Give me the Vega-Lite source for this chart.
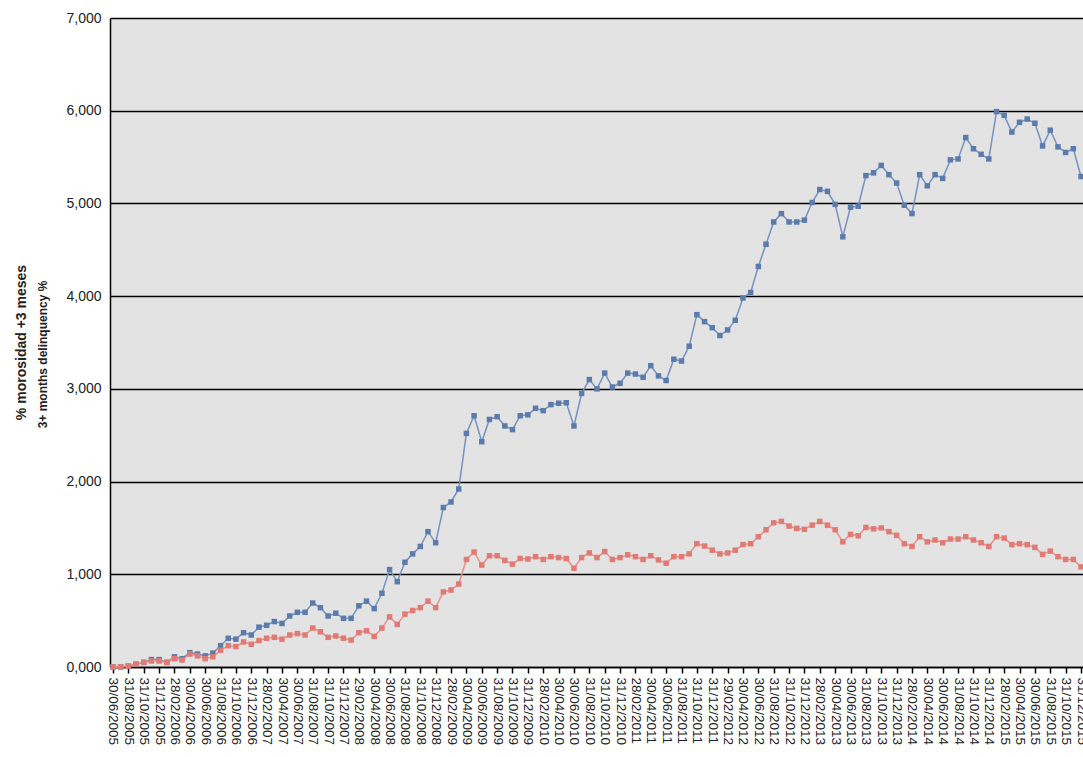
{
  "$schema": "https://vega.github.io/schema/vega-lite/v6.json",
  "autosize": {"type": "none"},
  "padding": {"left": 110, "top": 18, "right": 0, "bottom": 90},
  "width": 973,
  "height": 649,
  "background": "#ffffff",
  "title": {"text": "% morosidad +3 meses", "orient": "left", "anchor": "middle", "fontSize": 14, "fontWeight": "bold", "color": "#222222", "offset": 7},
  "data": {"values": [
    {"d":"30/06/2005","a":0.00,"b":0.00},{"d":"31/07/2005","a":0.00,"b":0.00},{"d":"31/08/2005","a":0.01,"b":0.01},{"d":"30/09/2005","a":0.03,"b":0.03},{"d":"31/10/2005","a":0.05,"b":0.05},{"d":"30/11/2005","a":0.08,"b":0.065},{"d":"31/12/2005","a":0.08,"b":0.065},
    {"d":"31/01/2006","a":0.05,"b":0.05},{"d":"28/02/2006","a":0.11,"b":0.09},{"d":"31/03/2006","a":0.09,"b":0.075},{"d":"30/04/2006","a":0.155,"b":0.14},{"d":"31/05/2006","a":0.14,"b":0.12},{"d":"30/06/2006","a":0.12,"b":0.09},{"d":"31/07/2006","a":0.15,"b":0.11},{"d":"31/08/2006","a":0.23,"b":0.18},{"d":"30/09/2006","a":0.31,"b":0.23},{"d":"31/10/2006","a":0.30,"b":0.22},{"d":"30/11/2006","a":0.37,"b":0.27},{"d":"31/12/2006","a":0.345,"b":0.245},
    {"d":"31/01/2007","a":0.43,"b":0.285},{"d":"28/02/2007","a":0.45,"b":0.31},{"d":"31/03/2007","a":0.49,"b":0.32},{"d":"30/04/2007","a":0.47,"b":0.30},{"d":"31/05/2007","a":0.55,"b":0.345},{"d":"30/06/2007","a":0.59,"b":0.36},{"d":"31/07/2007","a":0.59,"b":0.345},{"d":"31/08/2007","a":0.69,"b":0.42},{"d":"30/09/2007","a":0.64,"b":0.38},{"d":"31/10/2007","a":0.55,"b":0.32},{"d":"30/11/2007","a":0.58,"b":0.335},{"d":"31/12/2007","a":0.525,"b":0.31},
    {"d":"31/01/2008","a":0.525,"b":0.29},{"d":"29/02/2008","a":0.66,"b":0.37},{"d":"31/03/2008","a":0.71,"b":0.39},{"d":"30/04/2008","a":0.63,"b":0.33},{"d":"31/05/2008","a":0.795,"b":0.42},{"d":"30/06/2008","a":1.05,"b":0.54},{"d":"31/07/2008","a":0.92,"b":0.46},{"d":"31/08/2008","a":1.13,"b":0.57},{"d":"30/09/2008","a":1.22,"b":0.61},{"d":"31/10/2008","a":1.30,"b":0.64},{"d":"30/11/2008","a":1.46,"b":0.71},{"d":"31/12/2008","a":1.34,"b":0.64},
    {"d":"31/01/2009","a":1.72,"b":0.81},{"d":"28/02/2009","a":1.78,"b":0.83},{"d":"31/03/2009","a":1.92,"b":0.895},{"d":"30/04/2009","a":2.52,"b":1.16},{"d":"31/05/2009","a":2.71,"b":1.24},{"d":"30/06/2009","a":2.43,"b":1.10},{"d":"31/07/2009","a":2.67,"b":1.20},{"d":"31/08/2009","a":2.70,"b":1.20},{"d":"30/09/2009","a":2.60,"b":1.15},{"d":"31/10/2009","a":2.56,"b":1.11},{"d":"30/11/2009","a":2.71,"b":1.17},{"d":"31/12/2009","a":2.72,"b":1.165},
    {"d":"31/01/2010","a":2.79,"b":1.19},{"d":"28/02/2010","a":2.765,"b":1.16},{"d":"31/03/2010","a":2.83,"b":1.19},{"d":"30/04/2010","a":2.845,"b":1.18},{"d":"31/05/2010","a":2.85,"b":1.17},{"d":"30/06/2010","a":2.60,"b":1.065},{"d":"31/07/2010","a":2.95,"b":1.18},{"d":"31/08/2010","a":3.10,"b":1.23},{"d":"30/09/2010","a":3.00,"b":1.18},{"d":"31/10/2010","a":3.17,"b":1.245},{"d":"30/11/2010","a":3.02,"b":1.16},{"d":"31/12/2010","a":3.06,"b":1.18},
    {"d":"31/01/2011","a":3.17,"b":1.21},{"d":"28/02/2011","a":3.16,"b":1.19},{"d":"31/03/2011","a":3.125,"b":1.16},{"d":"30/04/2011","a":3.25,"b":1.20},{"d":"31/05/2011","a":3.14,"b":1.155},{"d":"30/06/2011","a":3.09,"b":1.12},{"d":"31/07/2011","a":3.32,"b":1.19},{"d":"31/08/2011","a":3.30,"b":1.19},{"d":"30/09/2011","a":3.46,"b":1.22},{"d":"31/10/2011","a":3.80,"b":1.33},{"d":"30/11/2011","a":3.725,"b":1.305},{"d":"31/12/2011","a":3.66,"b":1.26},
    {"d":"31/01/2012","a":3.575,"b":1.22},{"d":"29/02/2012","a":3.635,"b":1.23},{"d":"31/03/2012","a":3.74,"b":1.26},{"d":"30/04/2012","a":3.98,"b":1.32},{"d":"31/05/2012","a":4.04,"b":1.33},{"d":"30/06/2012","a":4.32,"b":1.405},{"d":"31/07/2012","a":4.56,"b":1.48},{"d":"31/08/2012","a":4.80,"b":1.555},{"d":"30/09/2012","a":4.89,"b":1.57},{"d":"31/10/2012","a":4.80,"b":1.52},{"d":"30/11/2012","a":4.80,"b":1.495},{"d":"31/12/2012","a":4.82,"b":1.485},
    {"d":"31/01/2013","a":5.01,"b":1.53},{"d":"28/02/2013","a":5.15,"b":1.57},{"d":"31/03/2013","a":5.13,"b":1.53},{"d":"30/04/2013","a":4.99,"b":1.48},{"d":"31/05/2013","a":4.64,"b":1.35},{"d":"30/06/2013","a":4.96,"b":1.43},{"d":"31/07/2013","a":4.97,"b":1.415},{"d":"31/08/2013","a":5.30,"b":1.505},{"d":"30/09/2013","a":5.33,"b":1.49},{"d":"31/10/2013","a":5.41,"b":1.50},{"d":"30/11/2013","a":5.31,"b":1.46},{"d":"31/12/2013","a":5.22,"b":1.42},
    {"d":"31/01/2014","a":4.98,"b":1.33},{"d":"28/02/2014","a":4.89,"b":1.30},{"d":"31/03/2014","a":5.31,"b":1.405},{"d":"30/04/2014","a":5.19,"b":1.35},{"d":"31/05/2014","a":5.31,"b":1.37},{"d":"30/06/2014","a":5.27,"b":1.34},{"d":"31/07/2014","a":5.47,"b":1.38},{"d":"31/08/2014","a":5.48,"b":1.38},{"d":"30/09/2014","a":5.71,"b":1.405},{"d":"31/10/2014","a":5.59,"b":1.37},{"d":"30/11/2014","a":5.53,"b":1.34},{"d":"31/12/2014","a":5.48,"b":1.30},
    {"d":"31/01/2015","a":5.99,"b":1.405},{"d":"28/02/2015","a":5.95,"b":1.39},{"d":"31/03/2015","a":5.77,"b":1.32},{"d":"30/04/2015","a":5.875,"b":1.33},{"d":"31/05/2015","a":5.91,"b":1.32},{"d":"30/06/2015","a":5.865,"b":1.29},{"d":"31/07/2015","a":5.62,"b":1.215},{"d":"31/08/2015","a":5.79,"b":1.25},{"d":"30/09/2015","a":5.61,"b":1.19},{"d":"31/10/2015","a":5.55,"b":1.16},{"d":"30/11/2015","a":5.59,"b":1.16},{"d":"31/12/2015","a":5.29,"b":1.08}
  ]},
  "encoding": {
    "x": {
      "field": "d", "type": "ordinal", "sort": null,
      "scale": {"type": "point", "padding": 0.325, "align": 0.6},
      "axis": {
        "title": null,
        "values": ["30/06/2005","31/08/2005","31/10/2005","31/12/2005","28/02/2006","30/04/2006","30/06/2006","31/08/2006","31/10/2006","31/12/2006","28/02/2007","30/04/2007","30/06/2007","31/08/2007","31/10/2007","31/12/2007","29/02/2008","30/04/2008","30/06/2008","31/08/2008","31/10/2008","31/12/2008","28/02/2009","30/04/2009","30/06/2009","31/08/2009","31/10/2009","31/12/2009","28/02/2010","30/04/2010","30/06/2010","31/08/2010","31/10/2010","31/12/2010","28/02/2011","30/04/2011","30/06/2011","31/08/2011","31/10/2011","31/12/2011","29/02/2012","30/04/2012","30/06/2012","31/08/2012","31/10/2012","31/12/2012","28/02/2013","30/04/2013","30/06/2013","31/08/2013","31/10/2013","31/12/2013","28/02/2014","30/04/2014","30/06/2014","31/08/2014","31/10/2014","31/12/2014","28/02/2015","30/04/2015","30/06/2015","31/08/2015","31/10/2015","31/12/2015"],
        "labelAngle": 90, "labelFontSize": 13.5, "labelColor": "#222222", "labelPadding": 4, "labelOverlap": false,
        "tickColor": "#000000", "tickSize": 6, "tickWidth": 1.5,
        "domainColor": "#000000", "domainWidth": 1.5, "grid": false
      }
    }
  },
  "layer": [
    {
      "mark": {"type": "line", "color": "#7592c0", "strokeWidth": 1.5,
        "point": {"shape": "square", "size": 30, "filled": true, "color": "#5a7bab", "opacity": 1}},
      "encoding": {
        "y": {
          "field": "a", "type": "quantitative",
          "scale": {"domain": [0, 7], "nice": false},
          "axis": {
            "title": "3+ months delinquency %",
            "values": [0, 1, 2, 3, 4, 5, 6, 7],
            "labelExpr": "replace(format(datum.value, '.3f'), '.', ',')",
            "labelFontSize": 14, "labelColor": "#222222", "labelPadding": 9,
            "ticks": false,
            "grid": true, "gridColor": "#000000", "gridWidth": 1.5,
            "domainColor": "#000000", "domainWidth": 1.5,
            "titleFontSize": 12, "titleFontWeight": "bold", "titleColor": "#222222",
            "titleX": -68, "titleY": 336, "titleBaseline": "middle", "titleAngle": -90
          }
        }
      }
    },
    {
      "mark": {"type": "line", "color": "#ea8f89", "strokeWidth": 1.5,
        "point": {"shape": "square", "size": 30, "filled": true, "color": "#e07a73", "opacity": 1}},
      "encoding": {
        "y": {"field": "b", "type": "quantitative"}
      }
    }
  ],
  "config": {
    "font": "Liberation Sans",
    "view": {"fill": "#e3e3e3", "stroke": null}
  }
}
